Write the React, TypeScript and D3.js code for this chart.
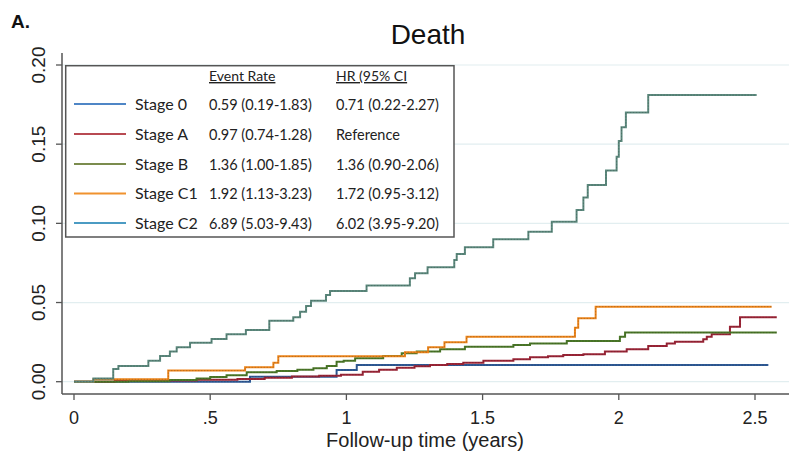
import React from 'react';
import * as d3 from 'd3';

// cumulative incidence, [years, proportion]
const stage0 = [[0, 0], [0.646, 0.0032], [0.964, 0.0074], [1.038, 0.0105], [2.549, 0.0105]];
const stageA = [[0, 0], [0.15, 0.0004], [0.3, 0.0008], [0.45, 0.0012], [0.6, 0.0017], [0.7, 0.0025], [0.8, 0.0033], [0.9, 0.0038], [0.98, 0.0044], [1.06, 0.0063], [1.12, 0.0075], [1.185, 0.0088], [1.25, 0.0098], [1.307, 0.0105], [1.37, 0.0112], [1.429, 0.012], [1.503, 0.0133], [1.613, 0.0141], [1.674, 0.0154], [1.74, 0.016], [1.796, 0.0169], [1.87, 0.0173], [1.949, 0.019], [2.029, 0.0205], [2.108, 0.0225], [2.176, 0.0242], [2.206, 0.0253], [2.31, 0.0268], [2.323, 0.0284], [2.341, 0.03], [2.408, 0.0347], [2.445, 0.0407], [2.58, 0.0407]];
const stageB = [[0, 0], [0.2, 0.0003], [0.35, 0.001], [0.45, 0.002], [0.5, 0.003], [0.56, 0.004], [0.634, 0.006], [0.744, 0.0068], [0.82, 0.0075], [0.879, 0.0085], [0.928, 0.0099], [0.964, 0.0126], [0.99, 0.0133], [1.032, 0.0148], [1.135, 0.0162], [1.203, 0.0179], [1.258, 0.019], [1.344, 0.0205], [1.435, 0.0221], [1.613, 0.0232], [1.674, 0.0242], [1.809, 0.0257], [2.004, 0.0284], [2.023, 0.031], [2.58, 0.031]];
const stageC1 = [[0, 0], [0.071, 0.0015], [0.346, 0.007], [0.628, 0.0091], [0.732, 0.012], [0.75, 0.016], [1.215, 0.0186], [1.3, 0.0217], [1.36, 0.0249], [1.441, 0.0284], [1.839, 0.0341], [1.851, 0.04], [1.915, 0.0474], [2.561, 0.0474]];
const stageC2 = [[0, 0], [0.071, 0.0021], [0.144, 0.008], [0.163, 0.0099], [0.273, 0.0133], [0.316, 0.0162], [0.352, 0.019], [0.377, 0.0217], [0.426, 0.0246], [0.505, 0.027], [0.56, 0.03], [0.631, 0.0327], [0.717, 0.0385], [0.805, 0.0407], [0.83, 0.0442], [0.852, 0.0478], [0.87, 0.0512], [0.925, 0.0548], [0.94, 0.0573], [1.074, 0.0607], [1.233, 0.0653], [1.252, 0.0685], [1.298, 0.0722], [1.396, 0.0768], [1.405, 0.0806], [1.435, 0.0849], [1.539, 0.0899], [1.668, 0.0947], [1.754, 0.101], [1.845, 0.1084], [1.87, 0.1164], [1.886, 0.1242], [1.953, 0.1333], [1.992, 0.142], [2.0, 0.152], [2.01, 0.1607], [2.026, 0.17], [2.108, 0.181], [2.506, 0.181]];

const stageNames = ['Stage 0', 'Stage A', 'Stage B', 'Stage C1', 'Stage C2'];
const eventRates = ['0.59 (0.19-1.83)', '0.97 (0.74-1.28)', '1.36 (1.00-1.85)', '1.92 (1.13-3.23)', '6.89 (5.03-9.43)'];
const hazardRatios = ['0.71 (0.22-2.27)', 'Reference', '1.36 (0.90-2.06)', '1.72 (0.95-3.12)', '6.02 (3.95-9.20)'];
const curveColors = ['#2f5b98', '#9e2537', '#4c7a28', '#f0861a', '#5d8b7f'];
const legendColors = ['#4f86c6', '#b84a52', '#7b8c4e', '#f0922e', '#4b9bc3'];

const yTicks = [0, 0.05, 0.1, 0.15, 0.2];
const xTicks = [0, 0.5, 1, 1.5, 2, 2.5];
const xTickLabels = ['0', '.5', '1', '1.5', '2', '2.5'];

const series = [stage0, stageA, stageB, stageC1, stageC2];

const App = () => {
    const x = d3.scaleLinear().domain([0, 2.5]).range([74, 755]);
    const y = d3.scaleLinear().domain([0, 0.2]).range([381.7, 65]);

    const line = d3.line<number[]>()
        .x(d => x(d[0]))
        .y(d => y(d[1]))
        .curve(d3.curveStepAfter);

    const axisFont = '"Liberation Sans", Arial, sans-serif';
    const legendFont = 'Lato, "Open Sans", sans-serif';
    const axisLeft = 62;
    const axisBottom = 394;
    const plotRight = 789;

    const legendRowY = [104, 134, 164, 193.5, 223];

    return (
        <svg width={800} height={461} style={{ position: 'absolute', left: 0, top: 0, background: '#fff' }}>
            <rect x={0} y={0} width={800} height={461} fill="#fff" />

            {/* grid */}
            {yTicks.map(t => (
                <line key={'g' + t} x1={axisLeft} x2={plotRight} y1={y(t)} y2={y(t)} stroke="#e2eef0" strokeWidth={1.2} />
            ))}

            {/* curves */}
            {series.map((s, i) => (
                <g key={stageNames[i]}>
                    <path d={line(s) || ''} fill="none" stroke={curveColors[i]} strokeWidth={2} />
                    <path d={line(s) || ''} fill="none" stroke="#222" strokeOpacity={0.35} strokeWidth={0.7} strokeDasharray="1.5 1.5" />
                </g>
            ))}

            {/* axes */}
            <line x1={axisLeft} x2={axisLeft} y1={53} y2={axisBottom} stroke="#555" strokeWidth={1.5} />
            <line x1={axisLeft} x2={plotRight} y1={axisBottom} y2={axisBottom} stroke="#555" strokeWidth={1.5} />
            {yTicks.map(t => (
                <g key={'y' + t}>
                    <line x1={axisLeft - 6} x2={axisLeft} y1={y(t)} y2={y(t)} stroke="#555" strokeWidth={1.3} />
                    <text transform={`translate(45,${y(t)}) rotate(-90)`} textAnchor="middle" fontFamily={axisFont} fontSize={19} fill="#222">
                        {t.toFixed(2)}
                    </text>
                </g>
            ))}
            {xTicks.map((t, i) => (
                <g key={'x' + t}>
                    <line x1={x(t)} x2={x(t)} y1={axisBottom} y2={axisBottom + 6} stroke="#555" strokeWidth={1.3} />
                    <text x={x(t)} y={424} textAnchor="middle" fontFamily={axisFont} fontSize={18} fill="#222">
                        {xTickLabels[i]}
                    </text>
                </g>
            ))}
            <text x={425} y={447} textAnchor="middle" fontFamily={axisFont} fontSize={20} fill="#222">Follow-up time (years)</text>

            {/* titles */}
            <text x={428} y={44} textAnchor="middle" fontFamily={axisFont} fontSize={28} fill="#111">Death</text>
            <text x={11} y={28} fontFamily={axisFont} fontSize={19} fontWeight="bold" fill="#111">A.</text>

            {/* legend */}
            <rect x={65.7} y={65.7} width={388.3} height={171.3} fill="#fff" stroke="#555" strokeWidth={1.5} />
            <text x={209} y={81} fontFamily={legendFont} fontSize={14} fill="#222" textDecoration="underline">Event Rate</text>
            <text x={336} y={81} fontFamily={legendFont} fontSize={14} fill="#222" textDecoration="underline">HR (95% CI</text>
            {stageNames.map((name, i) => (
                <g key={'l' + name}>
                    <line x1={74} x2={126} y1={legendRowY[i]} y2={legendRowY[i]} stroke={legendColors[i]} strokeWidth={2} />
                    <text x={135} y={legendRowY[i] + 5.5} fontFamily={legendFont} fontSize={16} fill="#222">{name}</text>
                    <text x={209} y={legendRowY[i] + 5.5} fontFamily={legendFont} fontSize={14.5} fill="#222">{eventRates[i]}</text>
                    <text x={336} y={legendRowY[i] + 5.5} fontFamily={legendFont} fontSize={14.5} fill="#222">{hazardRatios[i]}</text>
                </g>
            ))}
        </svg>
    );
};

export default App;
